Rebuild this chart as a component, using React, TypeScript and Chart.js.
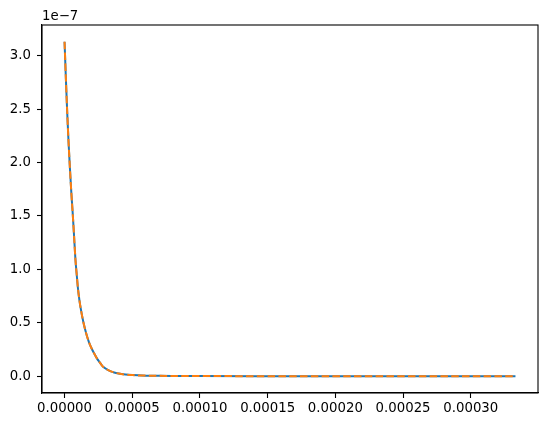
import React, { useEffect, useRef } from "react";
import { Chart, registerables } from "chart.js";

Chart.register(...registerables);

// time values (seconds)
const xValues = [
  0, 1e-6, 2e-6, 3e-6, 4e-6, 5e-6, 6e-6, 7e-6, 8e-6, 9e-6, 10e-6, 11e-6, 12e-6, 14e-6, 16e-6,
  18e-6, 20e-6, 22e-6, 24e-6, 26e-6, 28e-6, 30e-6, 33e-6, 36e-6, 40e-6, 45e-6, 50e-6, 60e-6,
  70e-6, 80e-6, 100e-6, 150e-6, 200e-6, 250e-6, 300e-6, 333e-6,
];
// values in units of 1e-7
const seriesA = [
  3.13, 2.78, 2.46, 2.18, 1.94, 1.72, 1.53, 1.32, 1.1, 0.95, 0.81, 0.71, 0.63, 0.5, 0.4,
  0.32, 0.26, 0.21, 0.165, 0.13, 0.095, 0.075, 0.052, 0.038, 0.025, 0.016, 0.011, 0.006,
  0.004, 0.003, 0.002, 0.001, 0.0005, 0.0003, 0.0002, 0.0001,
];
const seriesB = seriesA.slice();
const xTicks = [0, 0.00005, 0.0001, 0.00015, 0.0002, 0.00025, 0.0003];
const yTicks = [0, 0.5, 1.0, 1.5, 2.0, 2.5, 3.0];
const yScale = 1e-7;

const FONT = "'DejaVu Sans', sans-serif";

export default function App() {
  const ref = useRef<HTMLCanvasElement>(null);
  useEffect(() => {
    if (!ref.current) return;
    const toPts = (arr: number[]) => arr.map((v, i) => ({ x: xValues[i], y: v * yScale }));
    const xMax = xValues[xValues.length - 1];
    const xMargin = xMax * 0.05;
    const yMaxV = Math.max(...seriesA) * yScale;
    const yMargin = yMaxV * 0.05;

    const framePlugin = {
      id: "frame",
      afterDraw(chart: any) {
        const { ctx, chartArea } = chart;
        ctx.save();
        ctx.strokeStyle = "#000";
        ctx.lineWidth = 1.1;
        ctx.strokeRect(chartArea.left, chartArea.top, chartArea.right - chartArea.left, chartArea.bottom - chartArea.top);
        ctx.fillStyle = "#000";
        ctx.font = `13.3px ${FONT}`;
        ctx.textBaseline = "bottom";
        ctx.textAlign = "left";
        ctx.fillText("1e\u22127", chartArea.left, chartArea.top - 2);
        ctx.restore();
      },
    };

    const chart = new Chart(ref.current, {
      type: "scatter",
      data: {
        datasets: [
          {
            label: "b",
            data: toPts(seriesB),
            showLine: true,
            borderColor: "#ff7f0e",
            borderWidth: 2,
            borderDash: [7.5, 3.3],
            pointRadius: 0,
            cubicInterpolationMode: "monotone",
            order: 1,
          },
          {
            label: "a",
            data: toPts(seriesA),
            showLine: true,
            borderColor: "#1f77b4",
            borderWidth: 2,
            pointRadius: 0,
            cubicInterpolationMode: "monotone",
            order: 2,
          },
        ],
      },
      options: {
        animation: false,
        responsive: false,
        devicePixelRatio: 1,
        layout: { padding: { top: 25, right: 9, left: 0, bottom: 0 } },
        plugins: { legend: { display: false }, tooltip: { enabled: false } },
        scales: {
          x: {
            type: "linear",
            min: -xMargin,
            max: xMax + xMargin,
            afterBuildTicks: (s: any) => {
              s.ticks = xTicks.map((v) => ({ value: v }));
            },
            afterFit: (s: any) => {
              s.height = 35;
            },
            grid: { drawOnChartArea: false, tickLength: 5, tickColor: "#000", tickWidth: 1.1 },
            border: { color: "#000", width: 1.1 },
            ticks: {
              color: "#000",
              padding: 3,
              maxRotation: 0,
              autoSkip: false,
              font: { family: FONT, size: 13.3 },
              callback: (v: any) => Number(v).toFixed(5),
            },
          },
          y: {
            type: "linear",
            min: -yMargin,
            max: yMaxV + yMargin,
            afterBuildTicks: (s: any) => {
              s.ticks = yTicks.map((v) => ({ value: v * yScale }));
            },
            afterFit: (s: any) => {
              s.width = 42;
            },
            grid: { drawOnChartArea: false, tickLength: 5, tickColor: "#000", tickWidth: 1.1 },
            border: { color: "#000", width: 1.1 },
            ticks: {
              color: "#000",
              padding: 6,
              autoSkip: false,
              font: { family: FONT, size: 13.3 },
              callback: (v: any) => (Number(v) / yScale).toFixed(1),
            },
          },
        },
      },
      plugins: [framePlugin],
    } as any);
    return () => chart.destroy();
  }, []);
  return (
    <div style={{ position: "fixed", left: 0, top: 0, width: 547, height: 428, background: "#fff" }}>
      <canvas ref={ref} width={547} height={428} style={{ width: 547, height: 428 }} />
    </div>
  );
}
